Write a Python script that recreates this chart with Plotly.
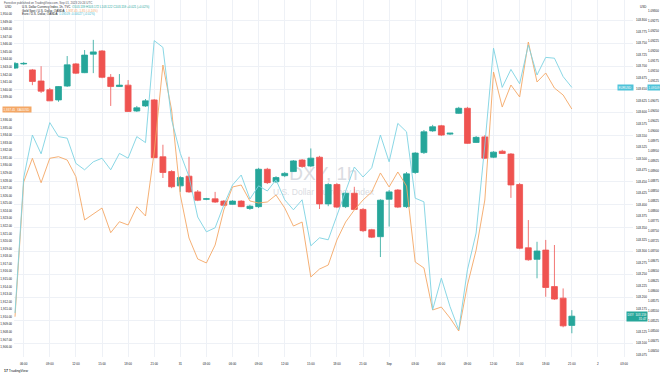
import plotly.graph_objects as go

# ---------------- data ----------------
hour_index = list(range(65))

dxy_open = [103.696, 103.705, 103.692, 103.668, 103.649, 103.627, 103.657, 103.705, 103.686, 103.726,
            103.733, 103.676, 103.656, 103.659, 103.603, 103.614, 103.627, 103.504, 103.472, 103.441,
            103.462, 103.428, 103.412, 103.413, 103.408, 103.401, 103.408, 103.392, 103.396, 103.477,
            103.450, 103.463, 103.472, 103.497, 103.484, 103.503, 103.402, 103.444, 103.396, 103.425,
            103.390, 103.346, 103.331, 103.412, 103.432, 103.396, 103.470, 103.513, 103.560, 103.571,
            103.553, 103.598, 103.609, 103.535, 103.547, 103.503, 103.516, 103.510, 103.444, 103.307,
            103.282, 103.302, 103.223, 103.198, 103.139]
dxy_high = [103.709, 103.709, 103.694, 103.700, 103.653, 103.657, 103.722, 103.707, 103.735, 103.757,
            103.735, 103.683, 103.683, 103.670, 103.614, 103.629, 103.629, 103.530, 103.475, 103.462,
            103.504, 103.432, 103.415, 103.428, 103.410, 103.410, 103.410, 103.400, 103.480, 103.480,
            103.462, 103.471, 103.497, 103.499, 103.522, 103.506, 103.447, 103.447, 103.428, 103.439,
            103.393, 103.348, 103.412, 103.432, 103.434, 103.471, 103.514, 103.562, 103.573, 103.573,
            103.555, 103.612, 103.612, 103.549, 103.551, 103.516, 103.519, 103.512, 103.447, 103.367,
            103.320, 103.324, 103.313, 103.219, 103.172]
dxy_low = [103.694, 103.703, 103.659, 103.642, 103.625, 103.623, 103.655, 103.683, 103.685, 103.685,
           103.674, 103.614, 103.655, 103.601, 103.601, 103.612, 103.501, 103.458, 103.436, 103.428,
           103.426, 103.408, 103.410, 103.404, 103.397, 103.400, 103.395, 103.389, 103.393, 103.445,
           103.447, 103.460, 103.471, 103.480, 103.482, 103.391, 103.397, 103.393, 103.393, 103.389,
           103.341, 103.328, 103.287, 103.353, 103.393, 103.393, 103.467, 103.510, 103.558, 103.549,
           103.551, 103.597, 103.532, 103.534, 103.499, 103.501, 103.510, 103.415, 103.304, 103.279,
           103.241, 103.201, 103.194, 103.135, 103.122]
dxy_close = [103.706, 103.706, 103.667, 103.646, 103.625, 103.656, 103.703, 103.685, 103.724, 103.731,
             103.676, 103.656, 103.659, 103.602, 103.610, 103.625, 103.502, 103.470, 103.439, 103.459,
             103.428, 103.410, 103.413, 103.406, 103.399, 103.408, 103.396, 103.397, 103.477, 103.448,
             103.459, 103.468, 103.495, 103.483, 103.501, 103.402, 103.444, 103.395, 103.425, 103.390,
             103.344, 103.330, 103.410, 103.428, 103.395, 103.467, 103.512, 103.558, 103.569, 103.551,
             103.555, 103.609, 103.533, 103.546, 103.501, 103.514, 103.511, 103.443, 103.306, 103.281,
             103.300, 103.221, 103.196, 103.138, 103.159]

gold_close = [1910.01, 1927.81, 1930.94, 1927.71, 1930.94, 1931.15, 1930.71, 1928.51, 1922.79, 1923.58,
              1924.37, 1921.11, 1922.56, 1922.13, 1924.54, 1923.32, 1931.77, 1943.26, 1937.32, 1926.09,
              1920.41, 1917.64, 1917.11, 1919.48, 1924.11, 1927.15, 1927.41, 1925.30, 1925.03, 1925.17,
              1926.09, 1924.37, 1921.99, 1922.52, 1915.26, 1916.31, 1916.84, 1920.15, 1922.52, 1924.11,
              1925.43, 1926.49, 1929.00, 1927.15, 1929.13, 1927.28, 1917.24, 1916.45, 1910.90, 1911.29,
              1909.84, 1908.12, 1914.20, 1918.82, 1925.43, 1942.34, 1937.71, 1940.62, 1939.04, 1946.30,
              1941.02, 1942.21, 1940.22, 1939.30, 1937.45]

eurusd_close = [1.08545, 1.08883, 1.08990, 1.08943, 1.09021, 1.08986, 1.08982, 1.08919, 1.08903, 1.08923,
                1.08932, 1.08903, 1.08944, 1.08932, 1.08986, 1.08971, 1.09226, 1.09209, 1.09028, 1.08944,
                1.08886, 1.08785, 1.08748, 1.08758, 1.08815, 1.08865, 1.08890, 1.08830, 1.08863, 1.08850,
                1.08878, 1.08828, 1.08803, 1.08828, 1.08713, 1.08733, 1.08728, 1.08790, 1.08853, 1.08910,
                1.08885, 1.08908, 1.08990, 1.08923, 1.09019, 1.08998, 1.08832, 1.08823, 1.08553, 1.08632,
                1.08561, 1.08503, 1.08653, 1.08745, 1.08965, 1.09207, 1.09109, 1.09154, 1.09118, 1.09215,
                1.09140, 1.09184, 1.09182, 1.09136, 1.09109]

time_tick_index = list(range(1, 71, 3))
time_tick_labels = ["06:00", "09:00", "12:00", "15:00", "18:00", "21:00", "31", "03:00", "06:00", "09:00",
                    "12:00", "15:00", "18:00", "21:00", "Sep", "03:00", "06:00", "09:00", "12:00", "15:00",
                    "18:00", "21:00", "2", "03:00"]
event_hours = [64]

# price-scale ticks (the one hidden under the last-price label is dropped, as TradingView does)
dxy_ticks = [round(103.8 - 0.025 * k, 3) for k in range(30)]
dxy_ticks = [t for t in dxy_ticks if abs(t - dxy_close[-1]) > 0.012]
gold_ticks = [1950 - k for k in range(45)]
gold_ticks = [t for t in gold_ticks if abs(t - gold_close[-1]) > 0.6]
eur_ticks = [round(1.093 - 0.00025 * k, 5) for k in range(35)]
eur_ticks = [t for t in eur_ticks if abs(t - eurusd_close[-1]) > 0.00012]

# ---------------- style ----------------
TEAL = "#26a69a"
RED = "#ef5350"
ORANGE = "#f4a765"
CYAN = "#7dd2e2"
TXT = "#131722"
GRID = "#eef1f6"
FONT = "Liberation Sans, Arial, sans-serif"

x_range = [-0.115, 71.03]
dxy_range = [103.0706, 103.8433]
gold_range = [1904.69, 1951.85]
eur_range = [1.08435, 1.093275]

fig = go.Figure()

# watermark (base layer, below candles)
wm_x = (x_range[0] + x_range[1]) / 2
span = dxy_range[1] - dxy_range[0]
fig.add_trace(go.Scatter(
    x=[wm_x, wm_x],
    y=[dxy_range[0] + 0.509 * span, dxy_range[0] + 0.46 * span],
    mode="text", text=["DXY, 1h", "U.S. Dollar Currency Index"],
    textfont=dict(size=[19, 8.5], color="#dadce2", family=FONT),
    hoverinfo="skip", showlegend=False, xaxis="x", yaxis="y"))

fig.add_trace(go.Candlestick(
    x=hour_index, open=dxy_open, high=dxy_high, low=dxy_low, close=dxy_close,
    increasing=dict(line=dict(color=TEAL, width=0.8), fillcolor=TEAL),
    decreasing=dict(line=dict(color=RED, width=0.8), fillcolor=RED),
    whiskerwidth=0, yaxis="y2", showlegend=False))

fig.add_trace(go.Scatter(x=hour_index, y=gold_close, mode="lines",
                         line=dict(color=ORANGE, width=0.9), yaxis="y3", showlegend=False))
fig.add_trace(go.Scatter(x=hour_index, y=eurusd_close, mode="lines",
                         line=dict(color=CYAN, width=0.9), yaxis="y4", showlegend=False))

# economic event marker on the time axis
fig.add_trace(go.Scatter(x=event_hours, y=[dxy_range[0] - 0.0004] * len(event_hours), mode="markers",
                         marker=dict(symbol="circle-open", size=4, color="#9c27b0", line=dict(width=0.7)),
                         cliponaxis=False, yaxis="y", showlegend=False, hoverinfo="skip"))

tick_font = dict(size=3, color=TXT, family=FONT)
fig.update_layout(
    template="none",
    width=660, height=373,
    margin=dict(l=14, r=27, t=0, b=16, pad=0, autoexpand=False),
    boxgap=0.15, boxgroupgap=0.2,
    paper_bgcolor="white", plot_bgcolor="white", showlegend=False,
    font=dict(family=FONT, size=3, color=TXT),
    xaxis=dict(range=x_range, tickmode="array", tickvals=time_tick_index, ticktext=time_tick_labels,
               showgrid=True, gridcolor=GRID, gridwidth=1, zeroline=False, showline=False, ticks="",
               tickfont=tick_font, ticklabelstandoff=4, rangeslider=dict(visible=False), automargin=False),
    yaxis=dict(range=dxy_range, tickmode="linear", dtick=0.05, tick0=103.8, showgrid=True, gridcolor=GRID,
               gridwidth=1, showticklabels=False, zeroline=False, showline=False, ticks="", automargin=False),
    yaxis2=dict(range=dxy_range, overlaying="y", side="right", tickmode="array", tickvals=dxy_ticks,
                tickformat=".3f", showgrid=False, zeroline=False, showline=False, ticks="",
                tickfont=tick_font, ticklabelstandoff=2, automargin=False),
    yaxis3=dict(range=gold_range, overlaying="y", side="left", tickmode="array", tickvals=gold_ticks,
                tickformat=",.2f", showgrid=False, zeroline=False, showline=False, ticks="",
                tickfont=tick_font, ticklabelstandoff=1, automargin=False),
    yaxis4=dict(range=eur_range, overlaying="y", side="right", tickmode="array", tickvals=eur_ticks,
                tickformat=".5f", showgrid=False, zeroline=False, showline=False, ticks="",
                tickfont=tick_font, ticklabelstandoff=14, automargin=False),
)

dxy_chg = dxy_close[-1] - dxy_close[-2]
gold_chg = gold_close[-1] - gold_close[-2]
eur_chg = eurusd_close[-1] - eurusd_close[-2]

legend1 = ("U.S. Dollar Currency Index, 1h, TVC  "
           f"<span style='color:{TEAL}'>O{dxy_open[-1]:.3f} H{dxy_high[-1]:.3f} L{dxy_low[-1]:.3f} "
           f"C{dxy_close[-1]:.3f} {dxy_chg:+.3f} ({dxy_chg / dxy_close[-2] * 100:+.2f}%)</span>")
legend2 = ("Gold Spot / U.S. Dollar, OANDA  "
           f"<span style='color:{ORANGE}'>{gold_close[-1]:,.2f} {gold_chg:+.2f} "
           f"({gold_chg / gold_close[-2] * 100:+.2f}%)</span>")
legend3 = ("Euro / U.S. Dollar, OANDA  "
           f"<span style='color:#3fb8cf'>{eurusd_close[-1]:.5f} {eur_chg:+.5f} "
           f"({eur_chg / eurusd_close[-2] * 100:+.2f}%)</span>")

small = dict(size=3, color=TXT, family=FONT)
annotations = [
    dict(xref="paper", yref="paper", x=0, y=1, xanchor="left", yanchor="middle", xshift=-12, yshift=-3,
         text="Forexlive published on TradingView.com, Sep 01, 2023 20:24 UTC", showarrow=False,
         font=dict(size=3, color="#50535e", family=FONT)),
    dict(xref="paper", yref="paper", x=0, y=1, xanchor="left", yanchor="middle", xshift=-11, yshift=-7,
         text="USD", showarrow=False, font=small),
    dict(xref="paper", yref="paper", x=1, y=1, xanchor="left", yanchor="middle", xshift=5, yshift=-7,
         text="USD", showarrow=False, font=small),
    dict(xref="paper", yref="paper", x=0, y=1, xanchor="left", yanchor="middle", xshift=6, yshift=-7,
         text=legend1, showarrow=False, font=small),
    dict(xref="paper", yref="paper", x=0, y=1, xanchor="left", yanchor="middle", xshift=6, yshift=-10.5,
         text=legend2, showarrow=False, font=small),
    dict(xref="paper", yref="paper", x=0, y=1, xanchor="left", yanchor="middle", xshift=6, yshift=-14,
         text=legend3, showarrow=False, font=small),
    # last-value labels
    dict(xref="paper", yref="y3", x=0, y=gold_close[-1], xanchor="left", yanchor="middle", xshift=-12,
         text=f"{gold_close[-1]:,.2f}  XAUUSD", showarrow=False, bgcolor=ORANGE, borderpad=0.6,
         font=dict(size=3, color="white", family=FONT)),
    dict(xref="paper", yref="y4", x=1, y=eurusd_close[-1], xanchor="right", yanchor="middle", xshift=1,
         text="EURUSD", showarrow=False, bgcolor="#4fc3d9", borderpad=0.6,
         font=dict(size=3, color="white", family=FONT)),
    dict(xref="paper", yref="y4", x=1, y=eurusd_close[-1], xanchor="left", yanchor="middle", xshift=14,
         text=f"{eurusd_close[-1]:.5f}", showarrow=False, bgcolor="#4fc3d9", borderpad=0.6,
         font=dict(size=3, color="white", family=FONT)),
    dict(xref="paper", yref="y2", x=1, y=dxy_close[-1], xanchor="left", yanchor="middle", xshift=-7,
         text=f"DXY  {dxy_close[-1]:.3f}<br>          31:47", showarrow=False, bgcolor=TEAL, borderpad=0.6,
         align="right", font=dict(size=3, color="white", family=FONT)),
    dict(xref="paper", yref="paper", x=0, y=0, xanchor="left", yanchor="top", xshift=-12, yshift=-10,
         text="<b>17</b> TradingView", showarrow=False, font=dict(size=3.5, color="#131722", family=FONT)),
]
fig.update_layout(annotations=annotations)

fig.write_html("out.html",
               config={"displayModeBar": False, "staticPlot": True},
               post_script="document.body.style.margin='0px';document.body.style.padding='0px';")
